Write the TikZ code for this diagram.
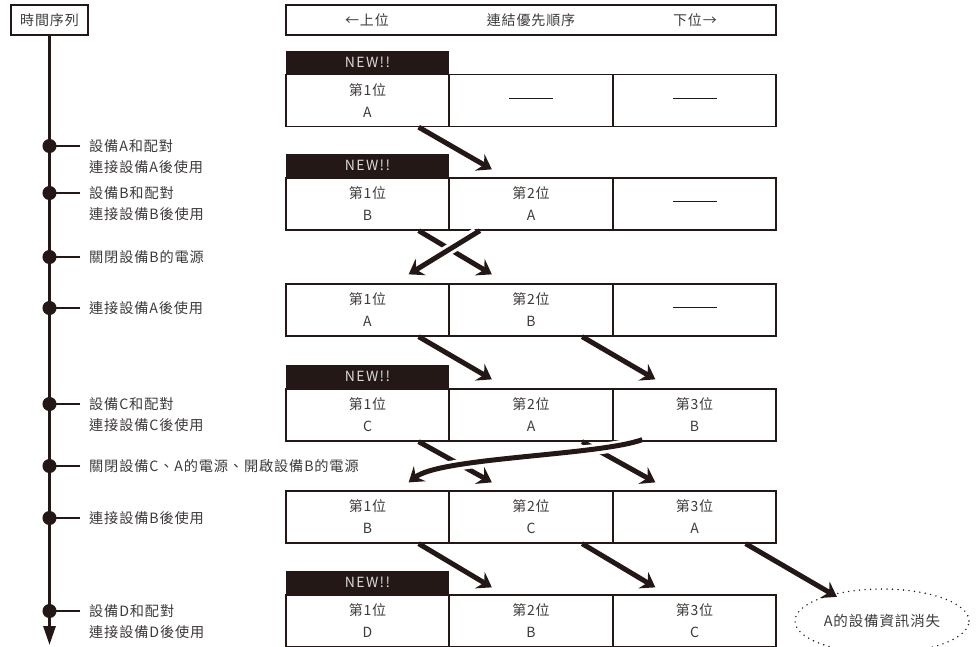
\documentclass[tikz,border=0pt]{standalone}
\usepackage{fontspec}
\setmainfont{Noto Sans CJK TC}[LetterSpace=6]
\usetikzlibrary{arrows.meta, calc, shapes.geometric}
\definecolor{InkBlack}{HTML}{231815}
\definecolor{InkGray}{HTML}{3E3A39}
\newcommand{\emptyrank}{{\color{InkBlack}\rule[0.33em]{44pt}{1.3pt}}}
\tikzset{
    % Boxes of the priority table
    rank cell/.style={
        rectangle,
        draw=InkBlack,
        fill=white,
        line width=1.3pt,
        minimum width=163pt,
        minimum height=52pt,
        inner sep=0pt,
        align=center,
        text=InkGray,
        font=\fontsize{14}{22}\selectfont
    },
    new tag/.style={
        rectangle,
        fill=InkBlack,
        minimum width=163pt,
        minimum height=23pt,
        inner sep=0pt,
        text=white!85!black,
        font=\fontsize{14}{14}\selectfont\addfontfeatures{LetterSpace=10}
    },
    header box/.style={
        rectangle,
        draw=InkBlack,
        line width=1.3pt,
        minimum height=30pt,
        inner sep=0pt
    },
    header text/.style={
        text=InkGray,
        font=\fontsize{14}{14}\selectfont
    },
    % Time line on the left
    event dot/.style={
        circle,
        draw=InkBlack,
        fill=InkBlack,
        line width=1pt,
        minimum size=13pt,
        inner sep=0pt
    },
    event label/.style={
        anchor=west,
        inner xsep=9pt,
        inner ysep=0pt,
        align=left,
        text=InkGray,
        font=\fontsize{14.2}{21}\selectfont
    },
    event tick/.style={
        line width=1.3pt,
        InkBlack
    },
    time line/.style={
        -{Triangle[length=19pt,width=12pt]},
        line width=3pt,
        InkBlack
    },
    % Moves between the rows
    shift arrow/.style={
        -{Stealth[length=14pt,width=19pt,inset=5pt]},
        line width=5pt,
        InkBlack
    },
    over arrow/.style={
        shift arrow,
        preaction={draw=white, line width=11pt, -, shorten <=4pt, shorten >=7pt}
    },
    lost note/.style={
        ellipse,
        draw=InkBlack,
        line width=1.6pt,
        dash pattern=on 0pt off 5.5pt,
        line cap=round,
        minimum width=162pt,
        minimum height=64pt,
        text=InkGray,
        font=\fontsize{14.5}{14.5}\selectfont
    }
}
\begin{document}
\begin{tikzpicture}[x=1pt, y=-1pt]
    \clip (0,0) rectangle (977,646);

    % Header
    \node[header box, minimum width=77pt] (clock) at (49.5,20) {};
    \node[header text] (clocktxt) at (clock) {時間序列};
    \node[header box, minimum width=490pt] (head) at (531,20) {};
    \node[header text] (hleft) at (367,20) {←上位};
    \node[header text] (hmid) at (531,20) {連結優先順序};
    \node[header text] (hright) at (695,20) {下位→};

    % Time line
    \coordinate (tlend) at (49.5,645);
    \draw[time line] (clock.south) -- (tlend);

    \node[event dot] (d1) at (49.5,146) {};
    \node[event label] (e1) at (80,156.5) {設備A和配對\\連接設備A後使用};
    \node[event dot] (d2) at (49.5,193) {};
    \node[event label] (e2) at (80,203.5) {設備B和配對\\連接設備B後使用};
    \node[event dot] (d3) at (49.5,257) {};
    \node[event label] (e3) at (80,257) {關閉設備B的電源};
    \node[event dot] (d4) at (49.5,308) {};
    \node[event label] (e4) at (80,308) {連接設備A後使用};
    \node[event dot] (d5) at (49.5,404) {};
    \node[event label] (e5) at (80,414.5) {設備C和配對\\連接設備C後使用};
    \node[event dot] (d6) at (49.5,466) {};
    \node[event label] (e6) at (80,466) {關閉設備C、A的電源、開啟設備B的電源};
    \node[event dot] (d7) at (49.5,518) {};
    \node[event label] (e7) at (80,518) {連接設備B後使用};
    \node[event dot] (d8) at (49.5,611) {};
    \node[event label] (e8) at (80,621.5) {設備D和配對\\連接設備D後使用};

    \draw[event tick] (d1.center) -- (d1.center -| e1.west);
    \draw[event tick] (d2.center) -- (d2.center -| e2.west);
    \draw[event tick] (d3.center) -- (d3.center -| e3.west);
    \draw[event tick] (d4.center) -- (d4.center -| e4.west);
    \draw[event tick] (d5.center) -- (d5.center -| e5.west);
    \draw[event tick] (d6.center) -- (d6.center -| e6.west);
    \draw[event tick] (d7.center) -- (d7.center -| e7.west);
    \draw[event tick] (d8.center) -- (d8.center -| e8.west);

    % Row 1
    \node[rank cell] (r1c1) at (367.5,100.5) {第1位\\A};
    \node[rank cell] (r1c2) at (531,100.5) {\emptyrank};
    \node[rank cell] (r1c3) at (694.5,100.5) {\emptyrank};
    \node[new tag, anchor=south] (n1) at (r1c1.north) {NEW!!};

    % Row 2
    \node[rank cell] (r2c1) at (367.5,204) {第1位\\B};
    \node[rank cell] (r2c2) at (531,204) {第2位\\A};
    \node[rank cell] (r2c3) at (694.5,204) {\emptyrank};
    \node[new tag, anchor=south] (n2) at (r2c1.north) {NEW!!};

    % Row 3
    \node[rank cell] (r3c1) at (367.5,310) {第1位\\A};
    \node[rank cell] (r3c2) at (531,310) {第2位\\B};
    \node[rank cell] (r3c3) at (694.5,310) {\emptyrank};

    % Row 4
    \node[rank cell] (r4c1) at (367.5,415) {第1位\\C};
    \node[rank cell] (r4c2) at (531,415) {第2位\\A};
    \node[rank cell] (r4c3) at (694.5,415) {第3位\\B};
    \node[new tag, anchor=south] (n4) at (r4c1.north) {NEW!!};

    % Row 5
    \node[rank cell] (r5c1) at (367.5,517) {第1位\\B};
    \node[rank cell] (r5c2) at (531,517) {第2位\\C};
    \node[rank cell] (r5c3) at (694.5,517) {第3位\\A};

    % Row 6
    \node[rank cell] (r6c1) at (367.5,621) {第1位\\D};
    \node[rank cell] (r6c2) at (531,621) {第2位\\B};
    \node[rank cell] (r6c3) at (694.5,621) {第3位\\C};
    \node[new tag, anchor=south] (n6) at (r6c1.north) {NEW!!};

    \node[lost note] (lost) at (882,621) {A的設備資訊消失};

    % Arrows
    \draw[shift arrow] ($(r1c1.south east)+(-31,0)$) -- ($(r2c2.north west)+(43,-8)$);

    \draw[shift arrow] ($(r2c1.south east)+(-31,0)$) -- ($(r3c2.north west)+(43,-9)$);
    \draw[over arrow] ($(r2c2.south west)+(31,0)$) -- ($(r3c1.north east)+(-41,-9)$);

    \draw[shift arrow] ($(r3c1.south east)+(-31,0)$) -- ($(r4c2.north west)+(43,-9)$);
    \draw[shift arrow] ($(r3c2.south east)+(-31,0)$) -- ($(r4c3.north west)+(43,-9)$);

    \draw[shift arrow] ($(r4c1.south east)+(-31,0)$) -- ($(r5c2.north west)+(43,-8)$);
    \draw[shift arrow] ($(r4c2.south east)+(-31,0)$) -- ($(r5c3.north west)+(43,-8)$);
    \draw[over arrow] ($(r4c3.south west)+(30,-2)$) .. controls +(-45,16) and +(32,-25) .. ($(r5c1.north east)+(-41,-8)$);

    \draw[shift arrow] ($(r5c1.south east)+(-31,0)$) -- ($(r6c2.north west)+(43,-7)$);
    \draw[shift arrow] ($(r5c2.south east)+(-31,0)$) -- ($(r6c3.north west)+(43,-7)$);
    \draw[shift arrow] ($(r5c3.south east)+(-31,0)$) -- ($(lost.north west)+(17,-1)$);
\end{tikzpicture}
\end{document}
